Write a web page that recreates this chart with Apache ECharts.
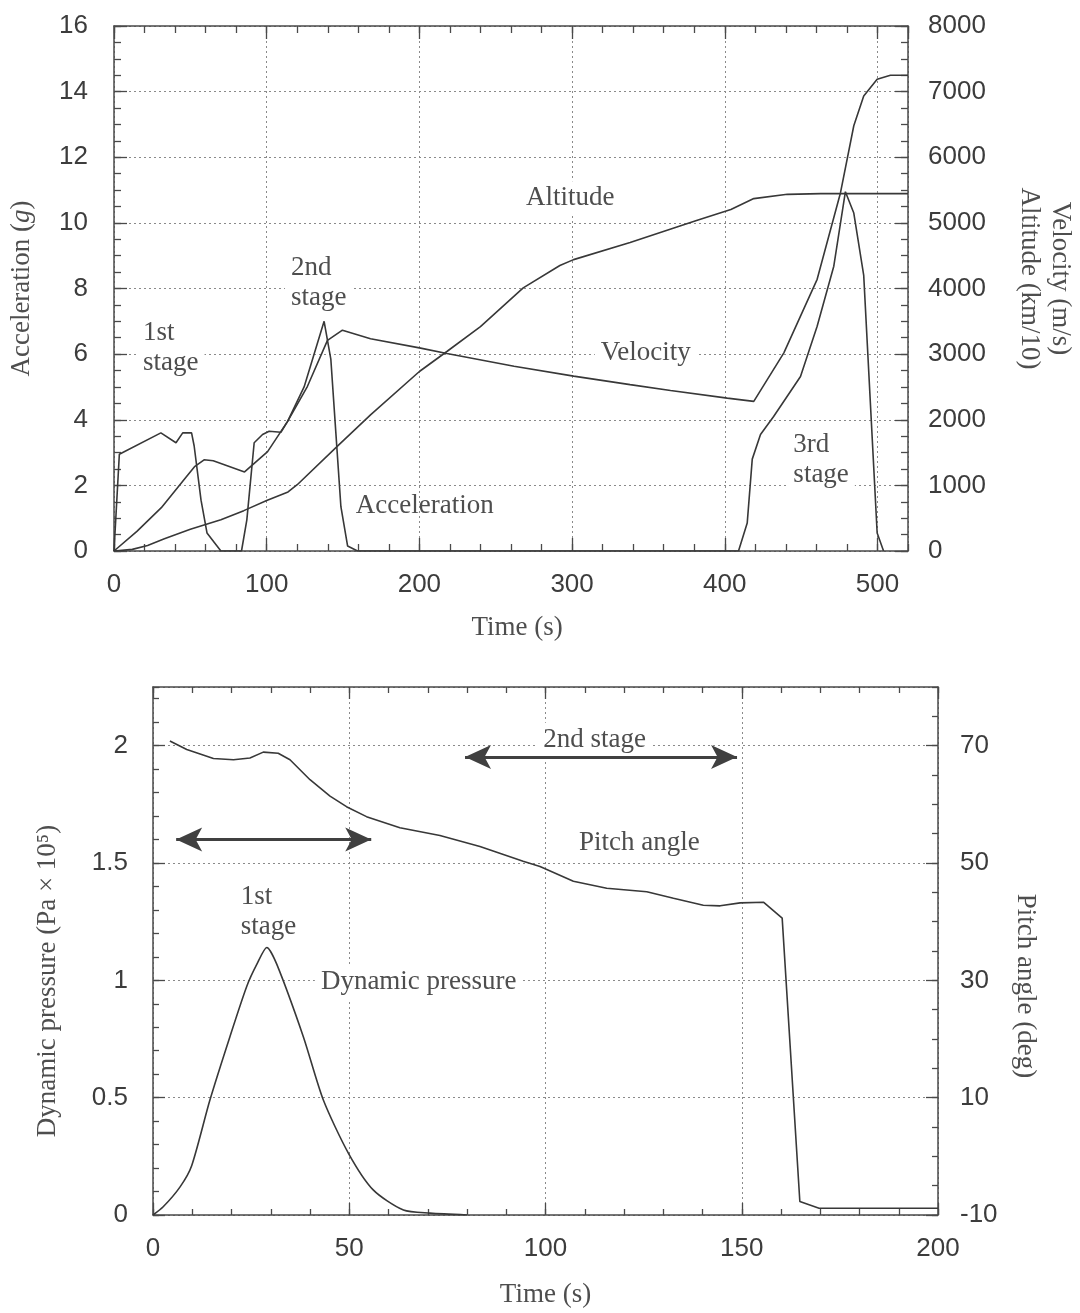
<!DOCTYPE html>
<html><head><meta charset="utf-8">
<script src="https://cdn.jsdelivr.net/npm/echarts@6/dist/echarts.min.js"></script>
<style>html,body{margin:0;padding:0;background:#fff}#c{width:1080px;height:1313px}</style>
</head><body><div id="c"></div>
<script>
// ---------- DATA ----------
// Top panel: time (s)
const accelTime = [0,3.5,30.7,40.6,45,50.8,52.5,57,60.9,70,83.5,87,91.8,97.3,101.6,109.3,113.7,124.5,137.6,142,145.3,148.6,153,159.5,409,414.7,418,423.4,432,449.6,460.5,471.4,479,484.5,491,499.8,504];
const accelG    = [0,2.95,3.6,3.3,3.6,3.6,3.2,1.55,0.55,0,0,0.95,3.3,3.55,3.65,3.62,3.95,5.0,7.0,5.85,3.6,1.35,0.15,0,0,0.85,2.8,3.55,4.1,5.32,6.85,8.68,10.95,10.3,8.4,0.55,0];
const velTime = [0,15,31,47,53,59,65,85.5,100.6,113.7,126.7,139.8,149.6,168,200,218,262,301,338,364.5,401.6,419,438.7,460.5,475.8,484.5,491,499.8,508.5,520];
const velMs   = [0,300,660,1120,1290,1390,1375,1205,1515,1975,2510,3210,3365,3235,3095,3010,2815,2665,2535,2445,2330,2280,3020,4140,5460,6480,6935,7190,7250,7250];
const altTime = [0,12,22,33,50,70,85,100,114,120,146,168,200,218,240,268,292,301,338,382,404,419,441,463,520];
const altKm10 = [0,25,85,185,330,475,615,770,900,1010,1590,2075,2735,3040,3420,4010,4350,4440,4700,5040,5205,5370,5435,5445,5445];
// Bottom panel: time (s)
const qTime = [0,2.6,6.9,9.85,14.5,19.6,23.9,26.5,29,31.5,38.3,43.4,49.8,56.1,63.8,70.6,80];
const qPa   = [0,0.035,0.12,0.21,0.49,0.76,0.975,1.07,1.14,1.07,0.76,0.49,0.263,0.107,0.021,0.008,0];
const pitchTime = [4.3,8.6,15.4,20.5,24.7,28.1,31.9,34.9,40,45.1,49.3,54.4,62.9,73.1,83.3,94.3,98.6,107.1,115.6,125.8,132.6,140.2,144.5,149.6,155.6,160.3,164.8,169.7,200];
const pitchDeg  = [70.8,69.35,67.8,67.6,67.9,68.9,68.7,67.6,64.2,61.4,59.6,57.9,56,54.7,52.8,50.3,49.4,46.9,45.7,45.1,44,42.8,42.7,43.2,43.3,40.6,-7.7,-8.86,-8.86];
// Tick labels
const topTimeTicks  = [0,100,200,300,400,500];
const accelTicks    = [0,2,4,6,8,10,12,14,16];
const velAltTicks   = [0,1000,2000,3000,4000,5000,6000,7000,8000];
const botTimeTicks  = [0,50,100,150,200];
const qTicks        = [0,0.5,1,1.5,2];
const pitchTicks    = [-10,10,30,50,70];

// ---------- STYLE ----------
const C_AX = '#4a4a4a', C_TXT = '#3c3c3c', C_LINE = '#383838', C_GRID = '#8a8a8a', C_NOTE = '#4e4e4e';
const SANS = '"Liberation Sans", Arial, sans-serif';
const SERIF = '"Liberation Serif", "Times New Roman", serif';
const pairs = (xs, ys) => xs.map((x, i) => [x, ys[i]]);

function axis(o) {
  return {
    type: 'value', gridIndex: o.g, position: o.pos, min: o.min, max: o.max, interval: o.iv,
    axisLine: {show: !!o.line, onZero: false, lineStyle: {color: C_AX, width: 1.5}},
    axisTick: {show: true, inside: true, length: o.tl, lineStyle: {color: C_AX, width: 1.3}},
    minorTick: {show: false},
    axisLabel: o.label ? {show: true, margin: o.margin, fontSize: 26, fontFamily: SANS, color: C_TXT,
      formatter: v => String(v),
      showMaxLabel: o.showMax, showMinLabel: true, hideOverlap: false} : {show: false},
    splitLine: o.split ? {show: true, lineStyle: {color: C_GRID, type: [2, 3], width: 1}} : {show: false},
    splitArea: {show: false}
  };
}
const tMax = 520, qMax = 2.25, pMax = 80;

const option = {
  animation: false,
  backgroundColor: '#fff',
  grid: [
    {left: 114, right: 172, top: 26, bottom: 762, outerBoundsMode: 'none', containLabel: false},
    {left: 153, right: 142, top: 687, bottom: 98, outerBoundsMode: 'none', containLabel: false}
  ],
  xAxis: [
    axis({g:0, pos:'bottom', min:topTimeTicks[0], max:tMax, iv:topTimeTicks[1]-topTimeTicks[0], line:true, tl:13, label:true, margin:21, split:true, showMax:false}),
    axis({g:0, pos:'bottom', min:0, max:tMax, iv:20, tl:7}),
    axis({g:0, pos:'top', min:0, max:tMax, iv:100, line:true, tl:13}),
    axis({g:0, pos:'top', min:0, max:tMax, iv:20, tl:7}),
    axis({g:1, pos:'bottom', min:botTimeTicks[0], max:botTimeTicks[botTimeTicks.length-1], iv:botTimeTicks[1]-botTimeTicks[0], line:true, tl:12, label:true, margin:21, split:true, showMax:true}),
    axis({g:1, pos:'bottom', min:0, max:200, iv:10, tl:6}),
    axis({g:1, pos:'top', min:0, max:200, iv:50, line:true, tl:12}),
    axis({g:1, pos:'top', min:0, max:200, iv:10, tl:6})
  ],
  yAxis: [
    axis({g:0, pos:'left', min:accelTicks[0], max:accelTicks[accelTicks.length-1], iv:accelTicks[1]-accelTicks[0], line:true, tl:13, label:true, margin:26, split:true, showMax:true}),
    axis({g:0, pos:'left', min:0, max:16, iv:0.5, tl:7}),
    axis({g:0, pos:'right', min:velAltTicks[0], max:velAltTicks[velAltTicks.length-1], iv:velAltTicks[1]-velAltTicks[0], line:true, tl:13, label:true, margin:20, showMax:true}),
    axis({g:0, pos:'right', min:0, max:8000, iv:250, tl:7}),
    axis({g:1, pos:'left', min:qTicks[0], max:qMax, iv:qTicks[1]-qTicks[0], line:true, tl:12, label:true, margin:25, split:true, showMax:false}),
    axis({g:1, pos:'left', min:0, max:qMax, iv:0.1, tl:6}),
    axis({g:1, pos:'right', min:pitchTicks[0], max:pMax, iv:pitchTicks[1]-pitchTicks[0], line:true, tl:12, label:true, margin:22, showMax:false}),
    axis({g:1, pos:'right', min:-10, max:pMax, iv:5, tl:6})
  ],
  series: [
    {name:'Acceleration', type:'line', xAxisIndex:0, yAxisIndex:0, data:pairs(accelTime, accelG)},
    {name:'Velocity', type:'line', xAxisIndex:0, yAxisIndex:2, data:pairs(velTime, velMs)},
    {name:'Altitude', type:'line', xAxisIndex:0, yAxisIndex:2, data:pairs(altTime, altKm10)},
    {name:'Dynamic pressure', type:'line', xAxisIndex:4, yAxisIndex:4, data:pairs(qTime, qPa), smooth:0.25,
      markLine: {silent:true, symbol:['arrow','arrow'], symbolSize:[18,26],
        lineStyle:{color:'#404040', width:3, type:'solid'}, label:{show:false}, emphasis:{disabled:true},
        data:[[{coord:[5.9,1.6]},{coord:[55.6,1.6]}],[{coord:[79.5,1.952]},{coord:[148.8,1.952]}]]}},
    {name:'Pitch angle', type:'line', xAxisIndex:4, yAxisIndex:6, data:pairs(pitchTime, pitchDeg)}
  ].map(s => Object.assign({showSymbol:false, symbol:'none', z:3, lineStyle:{color:C_LINE, width:1.6}}, s))
};

const chart = echarts.init(document.getElementById('c'), null, {renderer:'canvas'});
chart.setOption(option);

// ---------- annotations (anchored in data coordinates) ----------
const P0 = v => chart.convertToPixel({xAxisIndex:0, yAxisIndex:0}, v);
const P1 = v => chart.convertToPixel({xAxisIndex:4, yAxisIndex:4}, v);
function note(p, text, align, bg) {
  return {type:'text', x:p[0], y:p[1], z:1,
    style:{text:text, fontFamily:SERIF, fontSize:27, fill:C_NOTE, align:align, verticalAlign:'middle', lineHeight:30,
      backgroundColor: bg ? '#fff' : 'transparent', padding: bg ? [2, 6] : 0}};
}
function title(x, y, text, rot, rich) {
  return {type:'text', x:x, y:y, rotation:rot, z:1,
    style:{text:text, fontFamily:SERIF, fontSize:27, fill:C_NOTE, align:'center', verticalAlign:'middle', lineHeight:31, rich:rich}};
}
const richG = {n:{fontFamily:SERIF, fontSize:27, fill:C_NOTE}, i:{fontFamily:SERIF, fontSize:27, fontStyle:'italic', fill:C_NOTE}};
const topMid = P0([0,8]), botMid = P1([100,1.125]);
const graphics = [
  note(P0([15.1, 6.19]), '1st\nstage', 'left', true),
  note(P0([112, 8.16]), '2nd\nstage', 'left', true),
  note(P0([298.8, 10.75]), 'Altitude', 'center', true),
  note(P0([348.3, 6.03]), 'Velocity', 'center', true),
  note(P0([203.5, 1.37]), 'Acceleration', 'center', false),
  note(P0([441, 2.79]), '3rd\nstage', 'left', true),
  note(P1([112.5, 2.025]), '2nd stage', 'center', true),
  note(P1([20.8, 1.29]), '1st\nstage', 'left', true),
  note(P1([123.9, 1.586]), 'Pitch angle', 'center', true),
  note(P1([67.7, 0.993]), 'Dynamic pressure', 'center', true),
  title(P0([264,0])[0], 628, 'Time (s)', 0),
  title(P1([100,0])[0], 1295, 'Time (s)', 0),
  title(22, topMid[1], '{n|Acceleration (}{i|g}{n|)}', Math.PI/2, richG),
  title(1045, topMid[1] - 10, 'Velocity (m/s)\nAltitude (km/10)', -Math.PI/2),
  title(48, botMid[1] + 30, 'Dynamic pressure (Pa × 10⁵)', Math.PI/2),
  title(1025, botMid[1] + 35, 'Pitch angle (deg)', -Math.PI/2)
];
chart.setOption({graphic: graphics});
</script>
</body></html>
